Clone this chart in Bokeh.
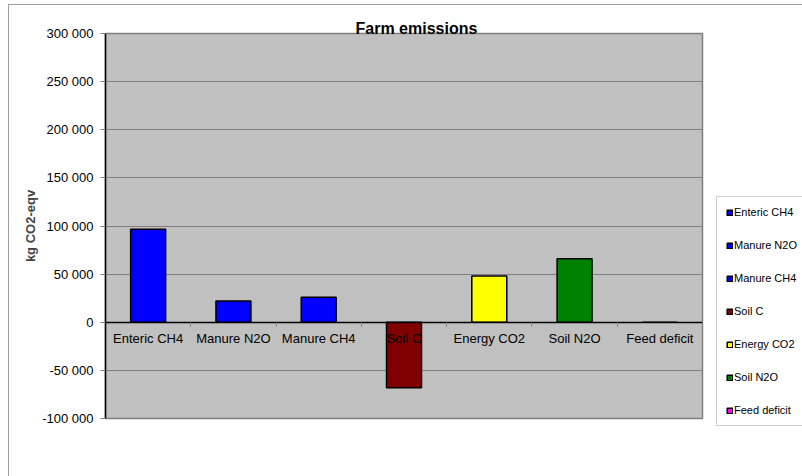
from bokeh.plotting import figure
from bokeh.models import (ColumnDataSource, Range1d, FixedTicker, LinearAxis,
                          CustomJSTickFormatter, Legend, LegendItem)
from bokeh.core.properties import value
from bokeh.embed import file_html
from bokeh.resources import INLINE

categories = ["Enteric CH4", "Manure N2O", "Manure CH4", "Soil C",
              "Energy CO2", "Soil N2O", "Feed deficit"]
values = [96500, 22000, 26000, -68000, 48000, 66000, 0]
colors = ["#0000FF", "#0000FF", "#0000FF", "#800000",
          "#FFFF00", "#008000", "#FF00FF"]
y_ticks = [-100000, -50000, 0, 50000, 100000, 150000, 200000, 250000, 300000]
title_text = "Farm emissions"
y_label = "kg CO2-eqv"

FONT = "Liberation Sans"
xs = [i + 0.5 for i in range(len(categories))]
src = ColumnDataSource(dict(x=xs, top=values, color=colors, cat=categories))

p = figure(frame_width=597, frame_height=385, output_backend="svg", toolbar_location=None,
           x_range=Range1d(0, len(categories)), y_range=Range1d(-100000, 300000),
           x_axis_type=None, min_border_left=96, min_border_right=100,
           min_border_top=28, min_border_bottom=58,
           styles={"margin-left": "8px", "margin-top": "4px",
                   "border-left": "1px solid #a0a0a0", "border-top": "1px solid #a0a0a0"})
p.background_fill_color = "#C0C0C0"
p.border_fill_color = "white"
p.outline_line_color = "#808080"
p.outline_line_width = 1.5

p.title.text = title_text
p.title.align = "left"
p.title.offset = 250
p.title.standoff = -6
p.title.text_font = FONT
p.title.text_font_style = "bold"
p.title.text_font_size = "16px"
p.title.text_color = "black"

p.xgrid.visible = False
p.ygrid.grid_line_color = "#808080"
p.ygrid.grid_line_width = 1.2
p.ygrid.ticker = FixedTicker(ticks=y_ticks)

ya = p.yaxis[0]
ya.ticker = FixedTicker(ticks=y_ticks)
ya.formatter = CustomJSTickFormatter(code="""
const s = Math.abs(tick).toFixed(0).replace(/\\B(?=(\\d{3})+(?!\\d))/g, ' ');
return (tick < 0 ? '-' : '') + s;""")
ya.axis_line_color = "black"
ya.axis_line_width = 1.5
ya.major_tick_line_color = "#808080"
ya.major_tick_out = 5
ya.major_tick_in = 0
ya.minor_tick_line_color = None
ya.major_label_text_font = FONT
ya.major_label_text_font_size = "13px"
ya.major_label_text_color = "black"
ya.major_label_standoff = 7
ya.axis_label = y_label
ya.axis_label_text_font = FONT
ya.axis_label_text_font_style = "bold"
ya.axis_label_text_font_size = "13px"
ya.axis_label_standoff = 1

r = p.vbar(x="x", top="top", bottom=0, width=0.41, source=src,
           fill_color="color", line_color="black", line_width=1.5)

xa = LinearAxis(fixed_location=0, ticker=FixedTicker(ticks=list(range(len(categories) + 1))))
xa.axis_line_color = "black"
xa.axis_line_width = 1.5
xa.major_tick_line_color = "#808080"
xa.major_tick_out = 4
xa.major_tick_in = 0
xa.minor_tick_line_color = None
xa.major_label_text_font_size = "0px"
xa.major_label_text_color = None
p.add_layout(xa, "below")

p.text(x="x", y=0, text="cat", source=src, y_offset=16,
       text_font=value(FONT), text_font_size="13px", text_color="black",
       text_align="center", text_baseline="middle")

items = [LegendItem(label=c, renderers=[r], index=i) for i, c in enumerate(categories)]
legend = Legend(items=items, location=(14, -8), orientation="vertical")
legend.glyph_width = 7
legend.glyph_height = 7
legend.label_height = 7
legend.spacing = 21
legend.padding = 9
legend.margin = 0
legend.label_standoff = 1
legend.label_text_font = FONT
legend.label_text_font_size = "11px"
legend.label_text_color = "black"
legend.border_line_color = "#a0a0a0"
legend.border_line_width = 1
legend.background_fill_color = "white"
legend.background_fill_alpha = 1
p.add_layout(legend, "right")

open("out.html", "w").write(file_html(p, INLINE))
